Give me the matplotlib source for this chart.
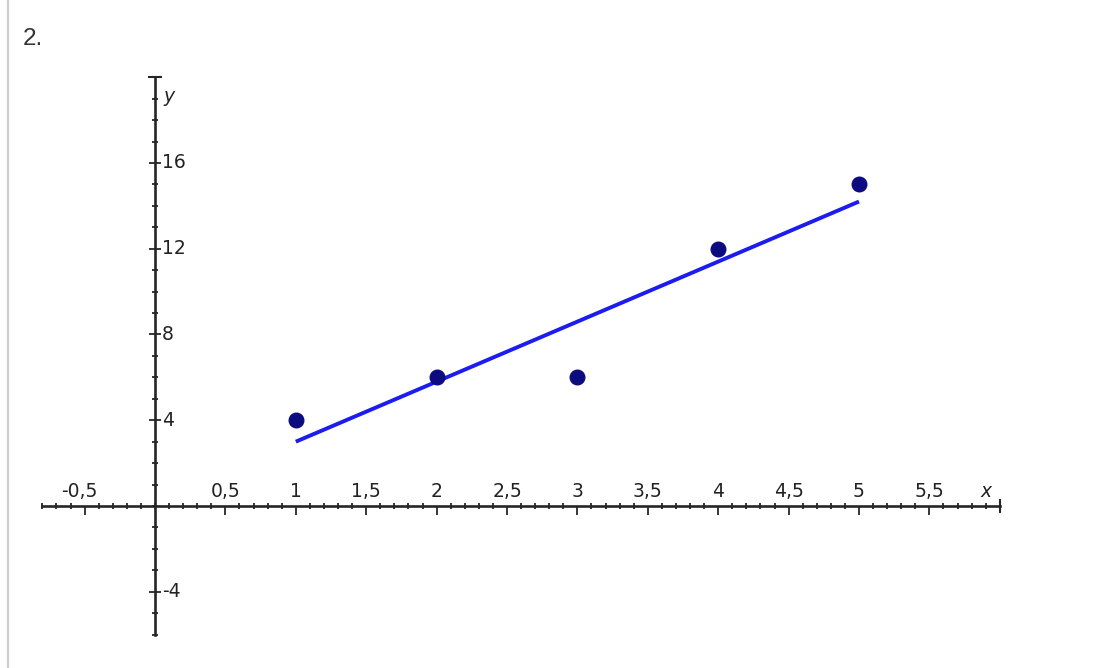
import numpy as np
import matplotlib
matplotlib.use("Agg")
import matplotlib.pyplot as plt
from matplotlib.ticker import FixedLocator

# data
x_pts = [1, 2, 3, 4, 5]
y_pts = [4, 6, 6, 12, 15]
fit_x = [1, 5]
fit_y = [3.0, 14.2]   # least-squares line y = 2.8x + 0.2
x_major = [-0.5, 0.5, 1, 1.5, 2, 2.5, 3, 3.5, 4, 4.5, 5, 5.5]
x_labels = ["-0,5", "0,5", "1", "1,5", "2", "2,5", "3", "3,5", "4", "4,5", "5", "5,5"]
y_major = [-4, 4, 8, 12, 16]
y_labels = ["-4", "4", "8", "12", "16"]
x_range = (-0.8, 6.0)
y_range = (-6, 20)
title = "2."

W, H, DPI = 1096, 668, 100
fig = plt.figure(figsize=(W / DPI, H / DPI), dpi=DPI)
ax = fig.add_axes([0, 0, 1, 1])

# pixel mapping: x=0 -> 155px, 140.8 px/unit; y=0 -> 506px, 21.44 px/unit
x0p, xs = 155.0, 140.8
y0p, ys = 506.0, 21.44
ax.set_xlim(-x0p / xs, (W - x0p) / xs)
ax.set_ylim(-(H - y0p) / ys, y0p / ys)
ax.patch.set_visible(False)

axcol = "#262626"
for s in ["top", "right"]:
    ax.spines[s].set_visible(False)
ax.spines["bottom"].set_position(("data", 0))
ax.spines["left"].set_position(("data", 0))
ax.spines["bottom"].set_bounds(*x_range)
ax.spines["left"].set_bounds(*y_range)
for s in ["bottom", "left"]:
    ax.spines[s].set_linewidth(1.9)
    ax.spines[s].set_color(axcol)

ax.xaxis.set_major_locator(FixedLocator(x_major))
ax.xaxis.set_minor_locator(FixedLocator(np.round(np.arange(-0.8, 6.0001, 0.1), 2)))
ax.yaxis.set_major_locator(FixedLocator(y_major))
ax.yaxis.set_minor_locator(FixedLocator(np.arange(-6, 20.5, 1)))
ax.tick_params(axis="x", which="major", direction="out", length=6.5, width=1.3, color=axcol, labelbottom=False)
ax.tick_params(axis="x", which="minor", direction="inout", length=4, width=1.3, color=axcol)
ax.tick_params(axis="y", which="major", direction="inout", length=8, width=1.3, color=axcol, labelleft=False)
ax.tick_params(axis="y", which="minor", direction="inout", length=4, width=1.3, color=axcol)

# axis end caps
ax.plot([x_range[1]], [0], marker="|", ms=10, mew=1.5, color=axcol, clip_on=False)
ax.plot([0], [y_range[1]], marker="_", ms=10, mew=1.5, color=axcol, clip_on=False)

lab_kw = dict(fontsize=13.5, color="#222222", family="DejaVu Sans")
for xv, lab in zip(x_major, x_labels):
    dx = -4 if lab.startswith("-") else 0
    ax.annotate(lab, (xv, 0), xytext=(dx, 3.5), textcoords="offset points",
                ha="center", va="bottom", **lab_kw)
for yv, lab in zip(y_major, y_labels):
    ax.annotate(lab, (0, yv), xytext=(5, 0), textcoords="offset points",
                ha="left", va="center", **lab_kw)

ax.annotate("x", (x_range[1], 0), xytext=(-10, 3.5), textcoords="offset points",
            ha="center", va="bottom", style="italic", **lab_kw)
ax.annotate("y", (0, y_range[1]), xytext=(6, -14), textcoords="offset points",
            ha="left", va="center", style="italic", **lab_kw)

# data
ax.plot(fit_x, fit_y, color="#1c1cf0", lw=2.8, solid_capstyle="butt", zorder=3)
ax.plot(x_pts, y_pts, "o", color="#0c0c80", ms=10.5, zorder=4)

# page decorations
fig.add_artist(plt.Line2D([7.5 / W, 7.5 / W], [0, 1], transform=fig.transFigure,
                          color="#cccccc", lw=1.6))
fig.text(23 / W, 1 - 45 / H, title, fontsize=17.5, color="#333333",
         family="Liberation Sans", ha="left", va="baseline")

fig.savefig("out.png", dpi=DPI)
